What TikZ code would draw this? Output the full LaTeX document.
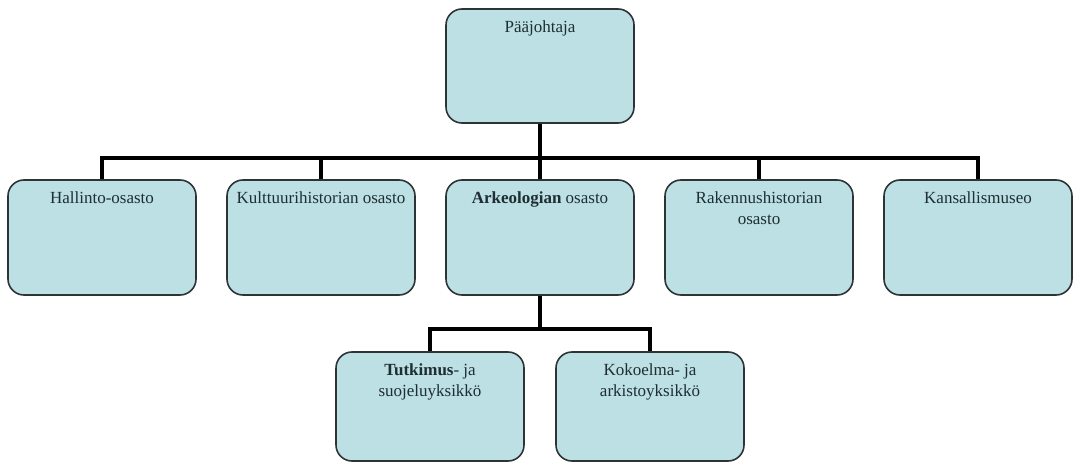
\documentclass[tikz,border=0pt]{standalone}
\usepackage{fontspec}
\setmainfont{Liberation Serif}
\definecolor{boxfill}{HTML}{BCE0E3}
\definecolor{boxline}{HTML}{2E3436}
\definecolor{txt}{HTML}{1E2E33}
\begin{document}
\begin{tikzpicture}[x=1pt,y=-1pt,
  orgbox/.style={draw=boxline, fill=boxfill, line width=1.6pt, rounded corners=16pt,
    minimum width=188pt, inner sep=0pt},
  rowbox/.style={orgbox, minimum height=115pt},
  lowbox/.style={orgbox, minimum height=109pt},
  boxtext/.style={anchor=north, align=center, text=txt, inner sep=0pt,
    font=\fontsize{17}{21}\selectfont},
  conn/.style={line width=4.5pt, black}]
\useasboundingbox (0,0) rectangle (1073,462);
% boxes
\node[orgbox, minimum height=114pt] (top) at (540,66) {};
\node[rowbox] (hal) at (102,237.5) {};
\node[rowbox] (kul) at (321,237.5) {};
\node[rowbox] (ark) at (540,237.5) {};
\node[rowbox] (rak) at (759,237.5) {};
\node[rowbox] (kan) at (978,237.5) {};
\node[lowbox] (tut) at (430,406.5) {};
\node[lowbox] (kok) at (650,406.5) {};
% texts
\node[boxtext] (ttop) at ([yshift=-12pt]top.north) {Pääjohtaja};
\node[boxtext] (thal) at ([yshift=-12pt]hal.north) {Hallinto-osasto};
\node[boxtext] (tkul) at ([yshift=-12pt]kul.north) {Kulttuurihistorian osasto};
\node[boxtext] (tark) at ([yshift=-12pt]ark.north) {\textbf{Arkeologian} osasto};
\node[boxtext] (trak) at ([yshift=-12pt]rak.north) {Rakennushistorian\\osasto};
\node[boxtext] (tkan) at ([yshift=-12pt]kan.north) {Kansallismuseo};
\node[boxtext] (ttut) at ([yshift=-12pt]tut.north) {\textbf{Tutkimus}- ja\\suojeluyksikkö};
\node[boxtext] (tkok) at ([yshift=-12pt]kok.north) {Kokoelma- ja\\arkistoyksikkö};
% connectors
\coordinate (bar) at (540,158);
\coordinate (bar2) at (540,329);
\draw[conn] (top.south) -- (ark.north);
\draw[conn] (hal.north) |- (bar) -| (kan.north);
\draw[conn] (kul.north) |- (bar);
\draw[conn] (rak.north) |- (bar);
\draw[conn] (ark.south) -- (bar2);
\draw[conn] (tut.north) |- (bar2) -| (kok.north);
\end{tikzpicture}
\end{document}
